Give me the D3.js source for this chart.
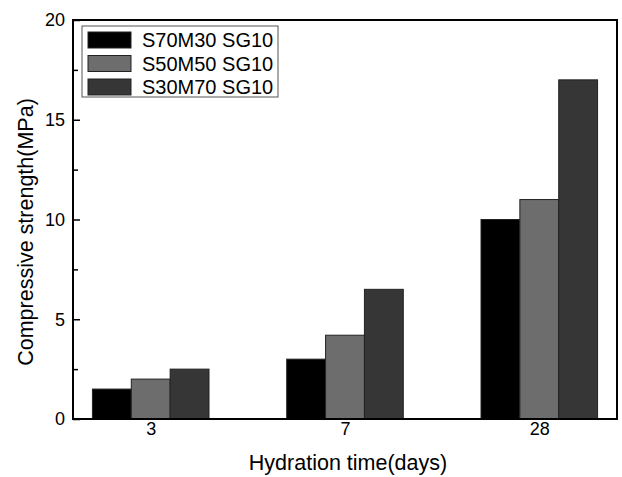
<!DOCTYPE html>
<html lang="en">

<head>
    <meta charset="UTF-8">
    <title>Compressive strength vs hydration time</title>
    <script src="https://d3js.org/d3.v7.min.js"></script>
    <style>
        body {
            margin: 0;
            background: #fff;
            font-family: "Liberation Sans", Arial, sans-serif;
        }

        .tick text {
            font-family: "Liberation Sans", Arial, sans-serif;
            font-size: 18px;
            fill: #000;
        }

        .axis-title {
            font-size: 21.5px;
        }

        .legend-label {
            font-size: 20px;
        }
    </style>
</head>

<body>
    <svg width="622" height="477"></svg>

    <script>
        // data
        const days = ["3", "7", "28"];
        const seriesNames = ["S70M30 SG10", "S50M50 SG10", "S30M70 SG10"];
        const s70m30 = [1.5, 3.0, 10.0];
        const s50m50 = [2.0, 4.2, 11.0];
        const s30m70 = [2.5, 6.5, 17.0];
        const yTicks = [0, 5, 10, 15, 20];
        const yMinorTicks = [2.5, 7.5, 12.5, 17.5];

        const series = [s70m30, s50m50, s30m70];
        const colors = ["#000000", "#6d6d6d", "#363636"];

        const svg = d3.select("svg");
        const plotL = 73, plotR = 617, plotT = 20, plotB = 419;

        // category index on a linear scale, bars 0.2 wide each
        const x = d3.scaleLinear().domain([-0.4, 2.4]).range([plotL, plotR]);
        const y = d3.scaleLinear().domain([0, 20]).range([plotB, plotT]);
        const barW = 0.2;

        // bars
        series.forEach((vals, si) => {
            svg.append("g")
                .selectAll("rect")
                .data(vals)
                .enter().append("rect")
                .attr("x", (d, i) => x(i + (si - 1.5) * barW))
                .attr("y", d => y(d))
                .attr("width", x(barW) - x(0))
                .attr("height", d => y(0) - y(d))
                .attr("fill", colors[si])
                .attr("stroke", "#222")
                .attr("stroke-width", 1);
        });

        // y axis, major + minor ticks inward
        const yAxis = svg.append("g")
            .attr("transform", `translate(${plotL},0)`)
            .call(d3.axisLeft(y).tickValues(yTicks).tickSize(-7).tickPadding(8).tickFormat(d3.format("d")));
        yAxis.select(".domain").remove();
        yAxis.selectAll("line").attr("stroke-width", 1.5);

        const yMinor = svg.append("g")
            .attr("transform", `translate(${plotL},0)`)
            .call(d3.axisLeft(y).tickValues(yMinorTicks).tickSize(-5).tickFormat(""));
        yMinor.select(".domain").remove();
        yMinor.selectAll("line").attr("stroke-width", 1.5);

        // x axis
        const xAxis = svg.append("g")
            .attr("transform", `translate(0,${plotB})`)
            .call(d3.axisBottom(x).tickValues(d3.range(days.length)).tickSize(0).tickPadding(3)
                .tickFormat(i => days[i]));
        xAxis.select(".domain").remove();

        // frame
        svg.append("rect")
            .attr("x", plotL)
            .attr("y", plotT)
            .attr("width", plotR - plotL)
            .attr("height", plotB - plotT)
            .attr("fill", "none")
            .attr("stroke", "#000")
            .attr("stroke-width", 2);

        // axis titles
        svg.append("text")
            .attr("class", "axis-title")
            .attr("x", (plotL + plotR) / 2 + 3)
            .attr("y", 470)
            .attr("text-anchor", "middle")
            .text("Hydration time(days)");

        svg.append("text")
            .attr("class", "axis-title")
            .attr("transform", "translate(33,232) rotate(-90)")
            .attr("text-anchor", "middle")
            .text("Compressive strength(MPa)");

        // legend
        const legend = svg.append("g");
        legend.append("rect")
            .attr("x", 82)
            .attr("y", 26)
            .attr("width", 196)
            .attr("height", 71)
            .attr("fill", "#fff")
            .attr("stroke", "#555")
            .attr("stroke-width", 1);

        seriesNames.forEach((name, i) => {
            legend.append("rect")
                .attr("x", 88)
                .attr("y", 32 + i * 23.5)
                .attr("width", 43)
                .attr("height", 16)
                .attr("fill", colors[i])
                .attr("stroke", "#222")
                .attr("stroke-width", 1);
            legend.append("text")
                .attr("class", "legend-label")
                .attr("x", 142)
                .attr("y", 47 + i * 23.5)
                .text(name);
        });
    </script>
</body>

</html>
